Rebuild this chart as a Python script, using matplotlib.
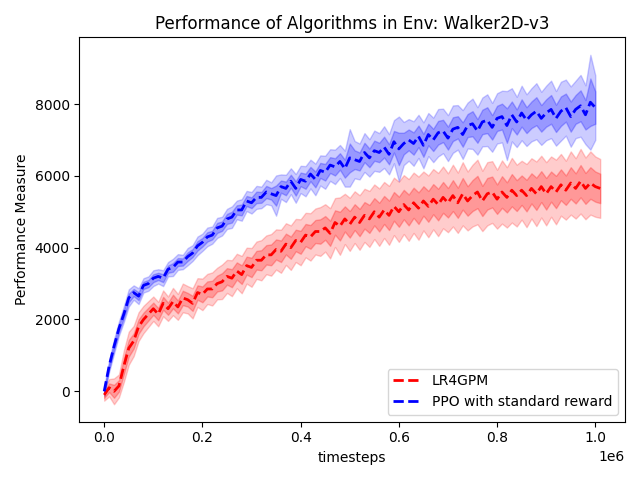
import matplotlib
matplotlib.use("Agg")
import matplotlib.pyplot as plt
import numpy as np

# timesteps (every 10k steps)
steps_lr4gpm = np.arange(102) * 10000
steps_ppo = np.arange(101) * 10000

# LR4GPM mean and std over seeds
lr4gpm_mean = [
    -100, 100, 0, 150, 700, 1200, 1400, 1800, 2000, 2150, 2300,
    2150, 2450, 2300, 2500, 2350, 2600, 2550, 2450, 2750, 2700,
    2850, 2850, 3000, 3050, 3200, 3150, 3350, 3250, 3500, 3450,
    3650, 3650, 3800, 3800, 3950, 3900, 4100, 4000, 4200, 4150,
    4350, 4300, 4450, 4450, 4550, 4400, 4700, 4600, 4800, 4650,
    4850, 4700, 4900, 4800, 5000, 4850, 5050, 4900, 5150, 5000,
    5200, 5050, 5250, 5100, 5300, 5150, 5350, 5200, 5400, 5250,
    5450, 5250, 5500, 5300, 5450, 5550, 5300, 5500, 5550, 5350,
    5550, 5400, 5600, 5450, 5600, 5450, 5650, 5500, 5700, 5500,
    5700, 5550, 5750, 5600, 5800, 5650, 5850, 5650, 5800, 5700,
    5650,
]
lr4gpm_std = [
    80, 120, 180, 160, 220, 230, 210, 200, 190, 180, 170,
    170, 180, 170, 190, 180, 200, 190, 210, 200, 220,
    210, 230, 220, 240, 230, 250, 240, 260, 250, 270,
    260, 280, 270, 290, 280, 300, 290, 310, 300, 320,
    310, 330, 320, 340, 330, 350, 340, 400, 350, 370,
    360, 380, 370, 390, 380, 400, 390, 410, 400, 420,
    410, 430, 420, 440, 410, 430, 420, 440, 430, 410,
    430, 420, 440, 410, 430, 450, 420, 440, 430, 410,
    440, 420, 450, 430, 410, 440, 420, 450, 430, 440,
    420, 450, 430, 410, 440, 420, 450, 430, 440, 420,
    410,
]

# PPO with standard reward
ppo_mean = [
    0, 700, 1250, 1750, 2150, 2600, 2750, 2650, 2950, 3000, 3150,
    3200, 3150, 3400, 3450, 3600, 3600, 3750, 3850, 4050, 4150,
    4300, 4350, 4550, 4600, 4800, 4850, 5050, 5050, 5300, 5250,
    5400, 5400, 5550, 5500, 5450, 5700, 5650, 5850, 5650, 5900,
    5850, 6050, 5900, 6150, 6100, 6300, 6250, 6400, 6200, 6500,
    6450, 6400, 6650, 6500, 6700, 6650, 6800, 6600, 6950, 6750,
    6900, 7000, 6900, 7100, 6850, 7150, 7000, 7200, 7250, 7050,
    7300, 7350, 7150, 7400, 7450, 7250, 7500, 7550, 7350, 7600,
    7650, 7400, 7700, 7500, 7750, 7550, 7700, 7800, 7600, 7750,
    7850, 7600, 7800, 7900, 7650, 7850, 7950, 7700, 8050, 7900,
]
ppo_std = [
    60, 80, 100, 100, 110, 120, 100, 110, 100, 100, 110,
    100, 110, 100, 120, 110, 100, 120, 110, 130, 120,
    130, 120, 140, 130, 140, 150, 130, 150, 140, 150,
    160, 150, 170, 160, 280, 170, 190, 180, 200, 190,
    210, 200, 220, 210, 230, 220, 240, 230, 250, 400,
    260, 250, 270, 260, 280, 270, 290, 280, 300, 450,
    300, 290, 310, 300, 320, 300, 310, 330, 310, 320,
    330, 310, 340, 320, 350, 330, 340, 360, 340, 350,
    360, 480, 370, 350, 380, 360, 370, 390, 370, 380,
    400, 380, 410, 390, 420, 400, 430, 410, 660, 450,
]

series = [
    ("LR4GPM", steps_lr4gpm, lr4gpm_mean, lr4gpm_std, "red"),
    ("PPO with standard reward", steps_ppo, ppo_mean, ppo_std, "blue"),
]

fig, ax = plt.subplots(figsize=(6.4, 4.8), dpi=100)

for label, x, mean, std, color in series:
    mean = np.array(mean, dtype=float)
    std = np.array(std, dtype=float)
    ax.plot(x, mean, "--", color=color, linewidth=2, label=label)
    ax.fill_between(x, mean - 2 * std, mean + 2 * std, color=color, alpha=0.2)
    ax.fill_between(x, mean - std, mean + std, color=color, alpha=0.25)

ax.set_title("Performance of Algorithms in Env: Walker2D-v3")
ax.set_xlabel("timesteps")
ax.set_ylabel("Performance Measure")
ax.legend(loc="lower right")

plt.tight_layout()
plt.savefig("out.png", dpi=100)
plt.close()
